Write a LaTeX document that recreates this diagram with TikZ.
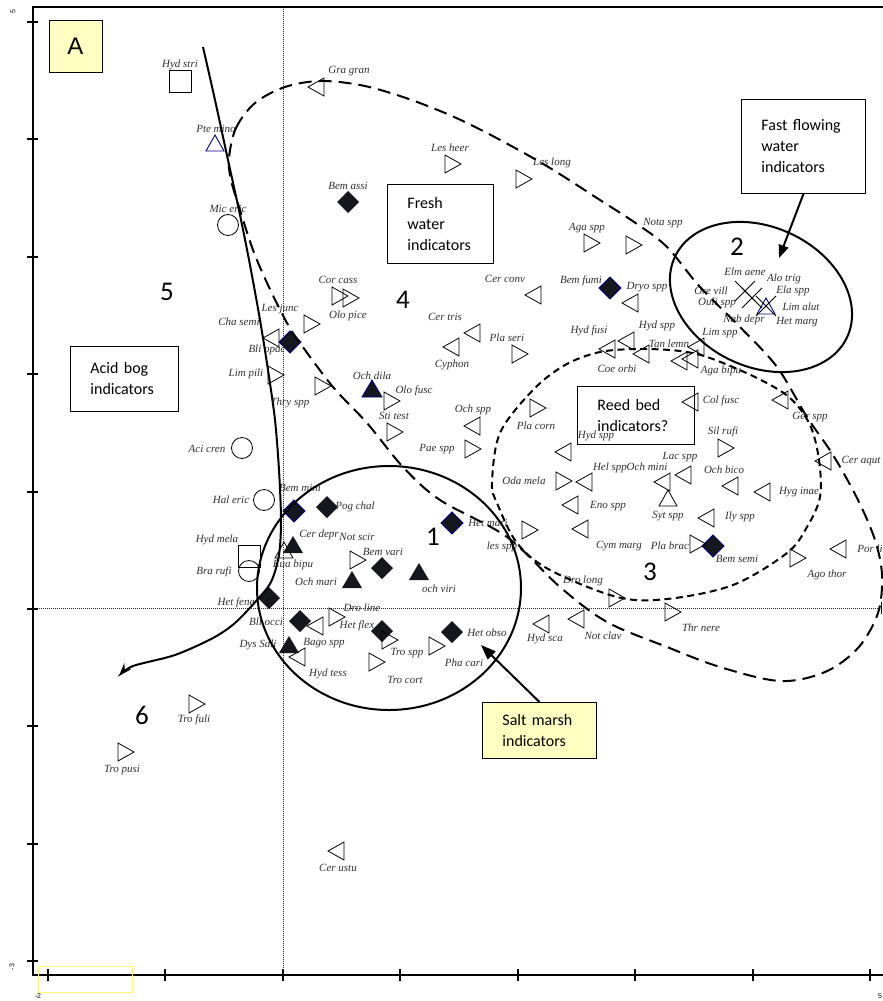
\documentclass[tikz,border=0pt]{standalone}
\usepackage{fontspec}
\setmainfont{Liberation Serif}
\newfontfamily\carl{Carlito}
\newfontfamily\ars{Liberation Sans}
\usetikzlibrary{arrows.meta}
\definecolor{navy}{RGB}{0,0,128}
\definecolor{mkfill}{RGB}{22,22,30}
\definecolor{ylw}{RGB}{255,255,194}
\tikzset{
  mk/.style={line width=0.8pt, draw=black},
  rt/.pic={\draw[mk] (-8,-9) -- (8,0) -- (-8,9) -- cycle;},
  lt/.pic={\draw[mk] (8,-9) -- (-8,0) -- (8,9) -- cycle;},
  upt/.pic={\draw[mk] (-9,8) -- (0,-8) -- (9,8) -- cycle;},
  fupt/.pic={\fill[mkfill] (-10,8) -- (0,-9) -- (10,8) -- cycle;},
  bupt/.pic={\draw[line width=0.9pt, draw=navy] (-9,8) -- (0,-8) -- (9,8) -- cycle;},
  nupt/.pic={\draw[line width=0.8pt, draw=navy, fill=mkfill] (-10,8) -- (0,-9) -- (10,8) -- cycle;},
  dia/.pic={\fill[mkfill] (0,-11) -- (11,0) -- (0,11) -- (-11,0) -- cycle;},
  ndia/.pic={\draw[line width=0.8pt, draw=navy, fill=mkfill] (0,-11) -- (11,0) -- (0,11) -- (-11,0) -- cycle;},
  sqm/.pic={\draw[mk] (-11,-11) rectangle (11,11);},
  cim/.pic={\draw[mk] (0,0) circle[radius=10.5pt];},
  xm/.pic={\draw[mk] (-10,-10) -- (10,10) (-10,10) -- (10,-10);},
  lab/.style={font=\itshape\fontsize{11}{12}\selectfont, text=black!82, inner sep=0pt},
  bignum/.style={font=\carl\fontsize{27}{29}\selectfont, inner sep=0pt},
  txtbox/.style={draw, line width=0.9pt, anchor=north west, inner xsep=20pt, inner ysep=0pt, align=left, font=\carl\fontsize{16}{21}\selectfont},
  axl/.style={font=\ars\fontsize{7}{8}\selectfont, inner sep=0pt},
  bigdash/.style={line width=2pt, dash pattern=on 13pt off 7pt},
  reeddash/.style={line width=2pt, dash pattern=on 7pt off 4.5pt},
  solidc/.style={line width=2pt},
  zl/.style={line width=0.7pt, dash pattern=on 1pt off 1pt, black!85}
}
\begin{document}
\begin{tikzpicture}[x=1pt,y=-1pt]
\useasboundingbox (0,0) rectangle (883,1001);
% zero lines
\draw[zl] (283,7) -- (283,975);
\draw[zl] (33,608) -- (883,608);
\draw[line width=1pt] (881,602) -- (881,614);
% axes
\draw[line width=2.5pt] (33,7) -- (883,7);
\draw[line width=2.5pt] (33,5.8) -- (33,976.2);
\draw[line width=2.5pt] (33,975) -- (883,975);
\foreach \k in {0,...,8} \draw[line width=2pt] (27,{22+117.4*\k}) -- (38,{22+117.4*\k});
\foreach \k in {0,...,7} \draw[line width=2pt] ({48+117.45*\k},969) -- ({48+117.45*\k},981);
\node[axl, rotate=90] (ay5) at (13,12) {5};
\node[axl, rotate=90] (aym3) at (12,967) {-3};
\node[axl] (axm2) at (38,996) {-2};
\node[axl] (ax5) at (880,996) {5};
\draw[yellow!55, line width=0.5pt] (38,966) rectangle (132,992);
% markers
\foreach \x/\y in {180/81, 249/556} \pic at (\x,\y) {sqm};
\foreach \x/\y in {228/225, 242/448, 264/500, 249/571} \pic at (\x,\y) {cim};
\foreach \x/\y in {215/143, 766/306} \pic at (\x,\y) {bupt};
\pic at (372,389) {nupt};
\foreach \x/\y in {284/550, 668/498} \pic at (\x,\y) {upt};
\foreach \x/\y in {293/545, 352/580, 419/572, 289/645} \pic at (\x,\y) {fupt};
\foreach \x/\y in {348/202, 327/507, 382/568, 269/598, 300/621, 382/631, 452/632} \pic at (\x,\y) {dia};
\foreach \x/\y in {290/342, 294/511, 452/523, 713/546, 610/288} \pic at (\x,\y) {ndia};
\foreach \x/\y in {745/291, 752/298, 766/306} \pic at (\x,\y) {xm};
\foreach \x/\y in {453/164, 524/179, 592/243, 634/245, 340/296, 351/298, 312/324, 276/375, 323/386, 520/354, 392/401, 395/432, 473/449, 538/408, 564/481, 530/530, 726/448, 698/544, 798/558, 617/598, 673/612, 358/560, 337/617, 390/640, 437/646, 377/662, 197/704, 126/752} \pic at (\x,\y) {rt};
\foreach \x/\y in {316/87, 533/295, 630/303, 472/333, 451/347, 271/338, 472/426, 563/452, 584/482, 570/505, 580/529, 607/349, 626/341, 641/354, 679/361, 690/359, 696/347, 690/402, 780/400, 823/461, 683/475, 662/482, 730/486, 762/492, 706/518, 838/549, 315/626, 297/657, 541/624, 576/619, 336/851} \pic at (\x,\y) {lt};
% labels
\foreach \x/\y/\t [count=\i] in {180/65/Hyd stri, 216/129/Pte mino, 228/209/Mic eric, 349/71/Gra gran, 450/148/Les heer, 552/163/Les long, 348/186/Bem assi, 587/228/Aga spp, 663/223/Nota spp, 338/280/Cor cass, 348/316/Olo pice, 505/279/Cer conv, 581/281/Bem fumi, 647/287/Dryo spp, 280/309/Les junc, 239/322/Cha semi, 267/350/Bli opac, 246/374/Lim pili, 290/403/Thry spp, 445/317/Cer tris, 507/338/Pla seri, 452/365/Cyphon, 589/331/Hyd fusi, 657/326/Hyd spp, 669/344/Tan lemn, 617/369/Coe orbi, 720/333/Lim spp, 721/371/Aga bipu, 745/272/Elm aene, 784/279/Alo trig, 711/291/Ore vill, 793/291/Ela spp, 717/303/Ouli spp, 801/307/Lim alut, 744/320/Nab depr, 797/322/Het marg, 372/376/Och dila, 414/391/Olo fusc, 394/416/Sti test, 473/410/Och spp, 437/449/Pae spp, 536/426/Pla corn, 596/436/Hyd spp, 721/401/Col fusc, 810/417/Ger spp, 723/432/Sil rufi, 861/461/Cer aqut, 680/457/Lac spp, 647/467/Och mini, 610/468/Hel spp, 724/470/Och bico, 799/492/Hyg inae, 524/481/Oda mela, 608/506/Eno spp, 668/516/Syt spp, 740/517/Ily spp, 207/449/Aci cren, 231/500/Hal eric, 300/488/Bem mini, 355/507/Pog chal, 488/523/Het mari, 319/535/Cer depr, 357/537/Not scir, 502/547/les spp, 383/552/Bem vari, 217/540/Hyd mela, 293/565/Eua bipu, 214/572/Bra rufi, 316/582/Och mari, 439/589/och viri, 619/546/Cym marg, 670/546/Pla brac, 737/559/Bem semi, 870/549/Por li, 827/575/Ago thor, 583/581/Dro long, 236/603/Het fene, 362/608/Dro line, 266/622/Bli occi, 357/626/Het flex, 487/633/Het obso, 545/639/Hyd sca, 603/636/Not clav, 701/628/Thr nere, 324/643/Bago spp, 258/645/Dys Sali, 407/653/Tro spp, 464/663/Pha cari, 328/674/Hyd tess, 405/680/Tro cort, 194/720/Tro fuli, 122/770/Tro pusi, 338/868/Cer ustu}
  \node[lab] (lb\i) at (\x,\y) {\t};
% group numbers
\node[bignum] (n5) at (167,292) {5};
\node[bignum] (n4) at (403,300) {4};
\node[bignum] (n1) at (433,537) {1};
\node[bignum] (n2) at (737,247) {2};
\node[bignum] (n3) at (650,572) {3};
\node[bignum] (n6) at (142,715) {6};
% curves
\draw[bigdash] plot[smooth cycle, tension=0.55] coordinates {(229,158) (236,128) (255,103) (285,87) (320,81) (360,85) (400,96) (445,113) (487,133) (545,165) (600,200) (640,226) (668,248) (700,287) (740,327) (777,367) (807,417) (833,455) (858,500) (875,540) (882,575) (878,613) (858,648) (825,672) (780,681) (720,667) (667,647) (607,622) (560,587) (507,537) (440,500) (403,467) (367,423) (333,387) (300,343) (287,323) (268,285) (253,250) (240,210) (231,180)};
\draw[reeddash] plot[smooth cycle, tension=0.55] coordinates {(600,352) (640,349) (680,351) (710,358) (757,378) (790,398) (810,425) (819,460) (820,497) (807,527) (787,553) (733,585) (667,599) (617,597) (550,570) (517,543) (497,503) (492,483) (500,433) (533,390) (565,365)};
\draw[solidc] (389,588) ellipse [x radius=132pt, y radius=122pt];
\draw[solidc, rotate around={-25:(761,297)}] (761,297) ellipse [x radius=95pt, y radius=70pt];
\draw[solidc, -{Stealth[length=13pt, width=9pt]}] plot[smooth, tension=0.5] coordinates {(203,47) (215,100) (228,160) (240,215) (250,265) (260,320) (268,370) (275,420) (279,470) (281,520) (279,555) (271,582) (257,600) (235,623) (213,638) (175,655) (133,666) (119,676)};
% boxes
\node[draw, fill=ylw, line width=0.9pt, minimum width=53pt, minimum height=52pt, inner sep=0pt, font=\ars\fontsize{24}{26}\selectfont] (boxA) at (75.5,46) {A};
\node[txtbox, text width=66pt, minimum height=79pt] (fresh) at (387,184) {Fresh\\water\\indicators};
\node[txtbox, text width=68pt, minimum height=65pt] (acid) at (70,346) {Acid bog\\indicators};
\node[txtbox, text width=84pt, minimum height=94pt] (fast) at (741,99) {Fast flowing\\water\\indicators};
\node[txtbox, text width=77pt, minimum height=58pt] (reed) at (577,386) {Reed bed\\indicators?};
\node[txtbox, fill=ylw, text width=74pt, minimum height=56pt] (salt) at (482,702) {Salt marsh\\indicators};
\coordinate (fastend) at (779,258);
\coordinate (saltend) at (481,645);
\draw[line width=2pt, -{Triangle[length=13pt, width=10pt]}] (fast.south) -- (fastend);
\draw[line width=2pt, -{Triangle[length=15pt, width=11pt]}] (salt.north) -- (saltend);
\end{tikzpicture}
\end{document}
